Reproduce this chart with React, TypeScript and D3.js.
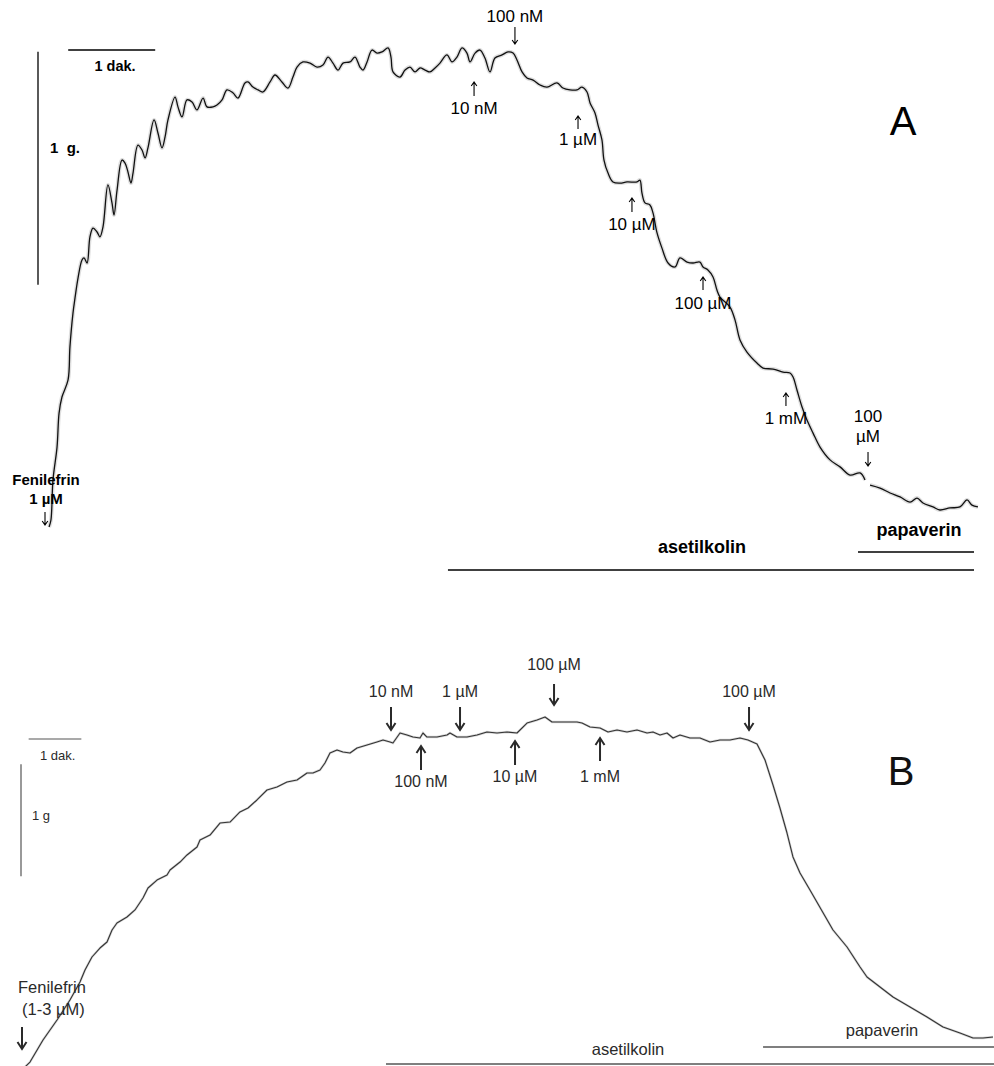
import { useEffect, useRef } from 'react';
import * as d3 from 'd3';

// Panel A: tension (g) over time (s) after phenylephrine 1 µM, then cumulative ACh
const traceA: [number, number][] = [
	[2.8, 0], [4.1, 0.03], [5.5, 0.202], [8.3, 0.343], [9.7, 0.489], [11.7, 0.558], [15.9, 0.631],
	[17.2, 0.773], [19.3, 0.918], [20.7, 0.983], [22.8, 1.069], [25.5, 1.146], [26.9, 1.155],
	[29.0, 1.133], [31.0, 1.245], [33.1, 1.283], [35.9, 1.266], [37.9, 1.245], [40.0, 1.288],
	[43.4, 1.468], [46.2, 1.391], [47.6, 1.339], [49.7, 1.446], [53.1, 1.575], [55.2, 1.562],
	[57.2, 1.524], [59.3, 1.476], [60.7, 1.519], [64.1, 1.639], [66.9, 1.618], [69.0, 1.584],
	[71.0, 1.627], [75.2, 1.747], [77.9, 1.691], [80.7, 1.627], [82.8, 1.674], [84.8, 1.747],
	[89.7, 1.845], [91.7, 1.803], [94.5, 1.76], [97.9, 1.833], [101.4, 1.824], [104.8, 1.79],
	[109.0, 1.841], [111.7, 1.803], [115.9, 1.803], [118.6, 1.811], [122.1, 1.833], [125.5, 1.876],
	[129.7, 1.863], [133.1, 1.841], [137.9, 1.906], [140.0, 1.91], [143.4, 1.888], [146.9, 1.876],
	[150.3, 1.867], [155.2, 1.91], [158.6, 1.94], [163.4, 1.91], [167.6, 1.884], [171.0, 1.931],
	[173.8, 1.974], [177.9, 1.996], [182.8, 1.991], [187.6, 1.974], [191.7, 1.983], [195.2, 2.017],
	[198.6, 1.991], [202.1, 1.961], [205.5, 1.991], [210.3, 1.996], [213.8, 2.017], [217.2, 1.974],
	[219.3, 1.961], [222.1, 1.996], [225.5, 2.047], [229.0, 2.034], [232.4, 2.039], [236.6, 2.056],
	[238.6, 2.017], [240.0, 1.953], [244.8, 1.931], [248.3, 1.961], [251.7, 1.974], [255.2, 1.953],
	[258.6, 1.97], [262.1, 1.961], [265.5, 1.953], [269.0, 1.97], [272.4, 1.991], [277.2, 2.026],
	[280.7, 1.996], [284.1, 2.017], [287.6, 2.056], [291.0, 2.034], [293.1, 1.996], [296.6, 2.034],
	[300.0, 2.047], [303.4, 2.013], [306.9, 1.953], [310.3, 2.013], [315.2, 2.026], [319.3, 2.039],
	[322.8, 2.034], [325.5, 2.004], [329.0, 1.953], [332.4, 1.927], [336.6, 1.918], [341.4, 1.897],
	[346.2, 1.888], [353.1, 1.906], [357.2, 1.884], [362.1, 1.876], [366.9, 1.876], [370.3, 1.888],
	[373.8, 1.867], [375.9, 1.82], [379.3, 1.777], [381.4, 1.725], [384.1, 1.661], [385.5, 1.575],
	[388.3, 1.519], [391.7, 1.481], [396.6, 1.476], [401.4, 1.481], [408.3, 1.481], [410.3, 1.489],
	[411.7, 1.433], [413.8, 1.391], [417.2, 1.382], [419.3, 1.348], [422.1, 1.262], [425.5, 1.197],
	[429.7, 1.133], [434.5, 1.116], [437.9, 1.155], [442.8, 1.137], [446.9, 1.133], [451.7, 1.137],
	[453.8, 1.116], [457.2, 1.103], [460.7, 1.073], [463.4, 1.017], [465.5, 0.987], [472.4, 0.944],
	[475.9, 0.888], [479.3, 0.803], [484.1, 0.751], [491.0, 0.704], [495.2, 0.682], [502.1, 0.678],
	[509.0, 0.665], [513.8, 0.661], [515.9, 0.644], [518.6, 0.588], [522.1, 0.515], [525.5, 0.459],
	[529.7, 0.403], [534.5, 0.343], [541.4, 0.288], [548.3, 0.258], [555.2, 0.223], [562.1, 0.232],
	[565.5, 0.202],
];

const traceAPapaverin: [number, number][] = [
	[569.0, 0.18], [575.9, 0.167], [582.8, 0.146], [589.7, 0.129], [596.6, 0.107], [601.4, 0.124],
	[605.5, 0.103], [612.4, 0.086], [617.2, 0.073], [624.1, 0.082], [631.0, 0.086], [635.9, 0.116],
	[639.3, 0.094], [643.4, 0.086],
];

// Panel B: tension (g) over time (s), phenylephrine 1-3 µM
const traceB: [number, number][] = [
	[3.5, 0.018], [10.6, 0.071], [25.9, 0.268], [42.4, 0.446], [57.6, 0.625], [69.4, 0.786],
	[75.3, 0.893], [83.5, 1.009], [92.9, 1.089], [101.2, 1.143], [107.1, 1.25], [112.9, 1.313],
	[124.7, 1.366], [134.1, 1.429], [143.5, 1.536], [149.4, 1.625], [160.0, 1.696], [171.8, 1.741],
	[175.3, 1.786], [187.1, 1.857], [195.3, 1.92], [207.1, 1.991], [210.6, 2.054], [222.4, 2.098],
	[234.1, 2.205], [245.9, 2.214], [257.6, 2.304], [267.1, 2.339], [277.6, 2.411], [289.4, 2.5],
	[301.2, 2.527], [312.9, 2.571], [324.7, 2.589], [336.5, 2.652], [343.5, 2.652], [351.8, 2.679],
	[357.6, 2.741], [363.5, 2.83], [371.8, 2.857], [378.8, 2.839], [387.1, 2.83], [395.3, 2.875],
	[407.1, 2.902], [418.8, 2.929], [425.9, 2.946], [434.1, 2.929], [437.6, 2.92], [445.9, 3.009],
	[454.1, 2.991], [461.2, 2.973], [469.4, 2.964], [472.9, 3.009], [477.6, 2.973], [489.4, 2.973],
	[501.2, 2.991], [504.7, 3.009], [512.9, 2.973], [524.7, 2.973], [536.5, 2.991], [548.2, 3.018],
	[560.0, 3.009], [571.8, 3.018], [583.5, 3.009], [595.3, 3.098], [607.1, 3.125], [616.5, 3.152],
	[624.7, 3.107], [637.6, 3.107], [654.1, 3.107], [660.0, 3.098], [669.4, 3.063], [681.2, 3.054],
	[690.6, 3.018], [701.2, 3.036], [712.9, 3.018], [724.7, 3.036], [736.5, 3.009], [743.5, 3.018],
	[751.8, 2.991], [760.0, 3.009], [767.1, 2.964], [775.3, 2.991], [787.1, 2.964], [798.8, 2.964],
	[810.6, 2.929], [822.4, 2.946], [834.1, 2.946], [845.9, 2.964], [855.3, 2.946], [865.9, 2.911],
	[875.3, 2.768], [884.7, 2.545], [892.9, 2.339], [901.2, 2.116], [908.2, 1.902], [916.5, 1.759],
	[928.2, 1.607], [942.4, 1.42], [955.3, 1.25], [971.8, 1.098], [987.1, 0.92], [995.3, 0.83],
	[1010.6, 0.741], [1025.9, 0.652], [1045.9, 0.563], [1065.9, 0.473], [1084.7, 0.384],
	[1104.7, 0.33], [1120.0, 0.286], [1131.8, 0.286], [1143.5, 0.295],
];

// drug additions (time in s)
const dosesA = ['100 nM', '10 nM', '1 µM', '10 µM', '100 µM', '1 mM'];
const doseTimesA = [324.1, 295.9, 367.6, 404.8, 453.8, 511.0];
const papaverinTimeA = 567.6;

const dosesB = ['10 nM', '100 nM', '1 µM', '10 µM', '100 µM', '1 mM'];
const doseTimesB = [435.3, 470.6, 516.5, 581.2, 627.1, 681.2];
const papaverinTimeB = 856.5;

// application periods [start, end] in s
const periodLabels = ['asetilkolin', 'papaverin'];
const periodsA: [number, number][] = [[277.9, 640.7], [560.7, 640.7]];
const periodsB: [number, number][] = [[429.4, 1144.7], [873.0, 1144.7]];

const FONT = "'Liberation Sans', Arial, sans-serif";

export default function App() {
	const svgRef = useRef<SVGSVGElement>(null);

	useEffect(() => {
		if (!svgRef.current) return;
		const svg = d3.select(svgRef.current);
		svg.selectAll('*').remove();

		const arrow = (
			g: d3.Selection<SVGGElement, unknown, null, undefined>,
			x: number,
			yTail: number,
			yTip: number,
			bold: boolean,
			color: string
		) => {
			const dir = yTip > yTail ? 1 : -1;
			const hw = bold ? 4.5 : 2.8;
			const hh = bold ? 7 : 4;
			g.append('path')
				.attr('d', `M${x},${yTail}L${x},${yTip}M${x - hw},${yTip - dir * hh}L${x},${yTip}L${x + hw},${yTip - dir * hh}`)
				.attr('fill', 'none')
				.attr('stroke', color)
				.attr('stroke-width', bold ? 2 : 1.1);
		};

		const text = (
			g: d3.Selection<SVGGElement, unknown, null, undefined>,
			x: number,
			y: number,
			s: string,
			size: number,
			opts: { bold?: boolean; anchor?: string; color?: string } = {}
		) =>
			g.append('text')
				.attr('x', x)
				.attr('y', y)
				.attr('font-family', FONT)
				.attr('font-size', size)
				.attr('font-weight', opts.bold ? 'bold' : 'normal')
				.attr('text-anchor', opts.anchor ?? 'middle')
				.attr('fill', opts.color ?? '#000')
				.text(s);

		// ---------- Panel A ----------
		const gA = svg.append('g');
		const xA = d3.scaleLinear().domain([0, 60]).range([45, 132]); // 1 dak. = 87 px
		const yA = d3.scaleLinear().domain([0, 1]).range([527, 294]); // 1 g = 233 px
		const lineA = d3
			.line<[number, number]>()
			.x((d) => xA(d[0]))
			.y((d) => yA(d[1]))
			.curve(d3.curveCatmullRom.alpha(0.5));

		[traceA, traceAPapaverin].forEach((tr) => {
			gA.append('path')
				.attr('d', lineA(tr))
				.attr('fill', 'none')
				.attr('stroke', '#d6d6d6')
				.attr('stroke-width', 4)
				.attr('stroke-linejoin', 'round')
				.attr('opacity', 0.8);
			gA.append('path')
				.attr('d', lineA(tr))
				.attr('fill', 'none')
				.attr('stroke', '#111')
				.attr('stroke-width', 1.3)
				.attr('stroke-linejoin', 'round');
		});

		// scale bars
		gA.append('line')
			.attr('x1', xA(16)).attr('x2', xA(76)).attr('y1', 50).attr('y2', 50)
			.attr('stroke', '#000').attr('stroke-width', 1.3);
		text(gA, 115, 71, '1 dak.', 14.5, { bold: true });
		gA.append('line')
			.attr('x1', 38).attr('x2', 38).attr('y1', yA(2.04)).attr('y2', yA(1.04))
			.attr('stroke', '#000').attr('stroke-width', 1.3);
		text(gA, 50, 153, '1\u00A0 g.', 15, { bold: true, anchor: 'start' });

		// dose arrows (down: tail, tip, label baseline above; up: tip, tail, label below)
		const layoutA = [
			{ tail: 27, tip: 44, label: 22 },
			{ tail: 96, tip: 82, label: 114 },
			{ tail: 129, tip: 116, label: 145 },
			{ tail: 212, tip: 198, label: 230 },
			{ tail: 290, tip: 277, label: 309 },
			{ tail: 406, tip: 393, label: 424 },
		];
		dosesA.forEach((lab, i) => {
			const x = xA(doseTimesA[i]);
			const l = layoutA[i];
			arrow(gA, x, l.tail, l.tip, false, '#000');
			text(gA, x, l.label, lab, 17);
		});
		const xp = xA(papaverinTimeA);
		text(gA, xp, 422, '100', 17);
		text(gA, xp, 442, 'µM', 17);
		arrow(gA, xp, 452, 466, false, '#000');

		// phenylephrine
		text(gA, xA(0) + 1, 485, 'Fenilefrin', 15, { bold: true });
		text(gA, xA(0) + 1, 504, '1 µM', 15, { bold: true });
		arrow(gA, xA(0), 512, 525, false, '#000');

		text(gA, 903, 135, 'A', 40);

		// application bars
		const barYA = [570, 552];
		const barLabelYA = [553, 536];
		periodsA.forEach((p, i) => {
			gA.append('line')
				.attr('x1', xA(p[0])).attr('x2', xA(p[1]))
				.attr('y1', barYA[i]).attr('y2', barYA[i])
				.attr('stroke', '#000').attr('stroke-width', 1.5);
		});
		text(gA, 702, barLabelYA[0], periodLabels[0], 18, { bold: true });
		text(gA, (xA(periodsA[1][0]) + xA(periodsA[1][1])) / 2 + 3, barLabelYA[1], periodLabels[1], 18, { bold: true });

		// ---------- Panel B ----------
		const gB = svg.append('g');
		const colB = '#2a2a2a';
		const xB = d3.scaleLinear().domain([0, 60]).range([21, 72]); // 1 dak. = 51 px
		const yB = d3.scaleLinear().domain([0, 1]).range([1070, 958]); // 1 g = 112 px
		const lineB = d3
			.line<[number, number]>()
			.x((d) => xB(d[0]))
			.y((d) => yB(d[1]));

		gB.append('path')
			.attr('d', lineB(traceB))
			.attr('fill', 'none')
			.attr('stroke', '#bbb')
			.attr('stroke-width', 2.4)
			.attr('opacity', 0.6);
		gB.append('path')
			.attr('d', lineB(traceB))
			.attr('fill', 'none')
			.attr('stroke', '#333')
			.attr('stroke-width', 1.1)
			.attr('stroke-linejoin', 'round');

		gB.append('line')
			.attr('x1', xB(9)).attr('x2', xB(71)).attr('y1', 739).attr('y2', 739)
			.attr('stroke', '#555').attr('stroke-width', 1.2);
		text(gB, 40, 760, '1 dak.', 13, { anchor: 'start', color: colB });
		gB.append('line')
			.attr('x1', 21).attr('x2', 21).attr('y1', yB(2.73)).attr('y2', yB(1.73))
			.attr('stroke', '#555').attr('stroke-width', 1.2);
		text(gB, 32, 820, '1 g', 13, { anchor: 'start', color: colB });

		const layoutB = [
			{ tail: 707, tip: 730, label: 697 },
			{ tail: 770, tip: 746, label: 787 },
			{ tail: 707, tip: 730, label: 697 },
			{ tail: 765, tip: 741, label: 782 },
			{ tail: 684, tip: 705, label: 670 },
			{ tail: 761, tip: 738, label: 782 },
		];
		dosesB.forEach((lab, i) => {
			const x = xB(doseTimesB[i]);
			const l = layoutB[i];
			arrow(gB, x, l.tail, l.tip, true, colB);
			text(gB, x, l.label, lab, 16, { color: colB });
		});
		const xpB = xB(papaverinTimeB);
		arrow(gB, xpB, 707, 730, true, colB);
		text(gB, xpB, 697, '100 µM', 16, { color: colB });

		text(gB, 18, 993, 'Fenilefrin', 16.5, { anchor: 'start', color: colB });
		text(gB, 22, 1015, '(1-3 µM)', 16.5, { anchor: 'start', color: colB });
		arrow(gB, 22, 1027, 1049, true, colB);

		text(gB, 901, 785, 'B', 40, { color: '#111' });

		const barYB = [1064, 1047];
		const barLabelYB = [1055, 1036];
		periodsB.forEach((p, i) => {
			gB.append('line')
				.attr('x1', xB(p[0])).attr('x2', xB(p[1]))
				.attr('y1', barYB[i]).attr('y2', barYB[i])
				.attr('stroke', '#555').attr('stroke-width', 1.4);
		});
		text(gB, 628, barLabelYB[0], periodLabels[0], 16.5, { color: colB });
		text(gB, 882, barLabelYB[1], periodLabels[1], 16.5, { color: colB });
	}, []);

	return (
		<svg
			ref={svgRef}
			width={994}
			height={1066}
			style={{ position: 'absolute', left: 0, top: 0, background: '#fff', display: 'block' }}
		/>
	);
}
